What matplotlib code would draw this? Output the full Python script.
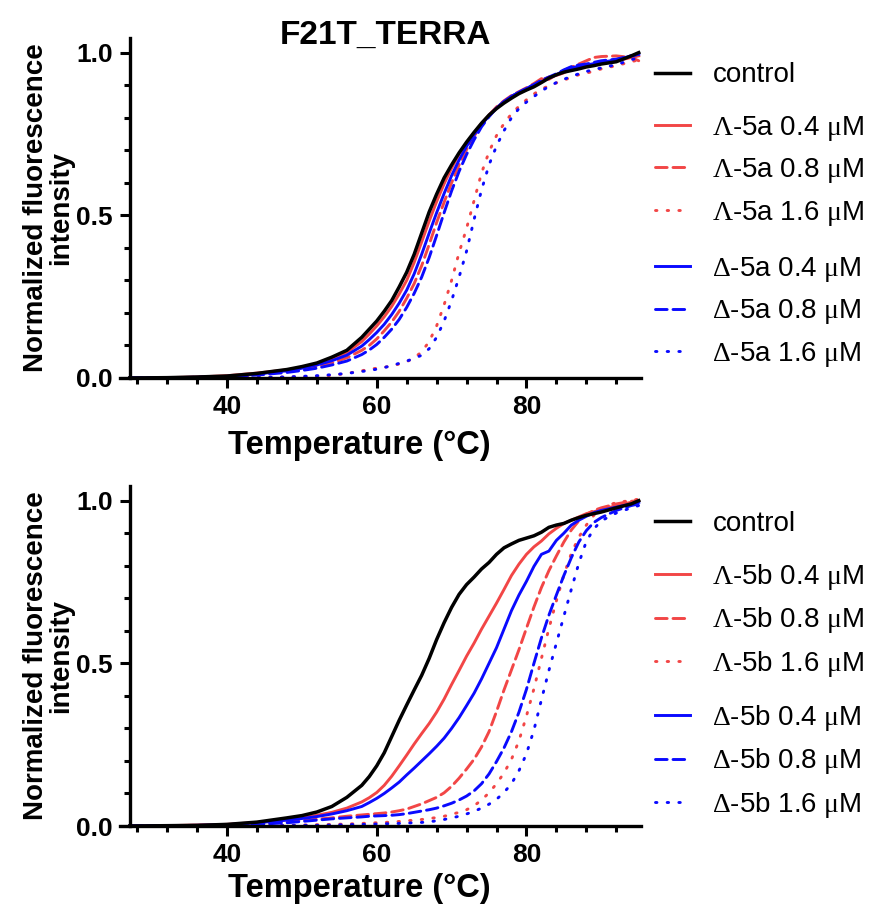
import matplotlib
matplotlib.use("Agg")
import matplotlib.pyplot as plt
from matplotlib.ticker import MultipleLocator, FixedLocator

plt.rcParams['font.family'] = ['Liberation Sans', 'DejaVu Sans']
plt.rcParams['mathtext.fontset'] = 'custom'
plt.rcParams['mathtext.rm'] = 'Liberation Serif'
plt.rcParams['mathtext.it'] = 'Liberation Serif'

# temperature grid (deg C), shared by all curves
temp = [27, 32, 36, 40, 44, 48, 50, 52, 54, 56, 58, 59, 60, 61, 62, 63, 64, 65, 66, 67,
        68, 69, 70, 71, 72, 73, 74, 75, 76, 77, 78, 79, 80, 81, 82, 83, 84, 85, 86, 87,
        88, 89, 90, 92, 94, 95]

# ---- top panel: 5a ----
a_control = [0, 0.001, 0.003, 0.006, 0.014, 0.026, 0.035, 0.046, 0.064, 0.085, 0.125, 0.15, 0.175, 0.205, 0.238, 0.28, 0.325, 0.38, 0.445, 0.51,
             0.565, 0.615, 0.655, 0.692, 0.725, 0.755, 0.783, 0.808, 0.828, 0.845, 0.86, 0.874, 0.885, 0.895, 0.908, 0.922, 0.932, 0.94, 0.945, 0.95,
             0.956, 0.96, 0.965, 0.972, 0.99, 1.0]
a_lam04 = [0, 0.001, 0.003, 0.007, 0.015, 0.025, 0.032, 0.043, 0.058, 0.078, 0.112, 0.135, 0.16, 0.188, 0.22, 0.258, 0.30, 0.355, 0.418, 0.482,
           0.542, 0.597, 0.645, 0.688, 0.722, 0.753, 0.783, 0.808, 0.83, 0.85, 0.866, 0.876, 0.888, 0.90, 0.915, 0.925, 0.93, 0.938, 0.95, 0.955,
           0.96, 0.965, 0.968, 0.975, 0.985, 0.99]
a_lam08 = [0, 0.001, 0.002, 0.005, 0.011, 0.02, 0.027, 0.035, 0.046, 0.062, 0.085, 0.10, 0.12, 0.145, 0.172, 0.205, 0.245, 0.29, 0.345, 0.41,
           0.478, 0.54, 0.6, 0.655, 0.702, 0.743, 0.778, 0.808, 0.833, 0.852, 0.868, 0.88, 0.892, 0.905, 0.92, 0.918, 0.932, 0.945, 0.955, 0.965,
           0.975, 0.985, 0.988, 0.99, 0.985, 0.975]
a_lam16 = [0, 0, 0, 0.001, 0.002, 0.003, 0.004, 0.005, 0.008, 0.014, 0.022, 0.027, 0.03, 0.033, 0.037, 0.043, 0.05, 0.062, 0.08, 0.112,
           0.16, 0.225, 0.30, 0.385, 0.46, 0.545, 0.63, 0.695, 0.745, 0.782, 0.812, 0.835, 0.855, 0.873, 0.888, 0.898, 0.907, 0.915, 0.925, 0.932,
           0.937, 0.943, 0.95, 0.96, 0.972, 0.978]
a_del04 = [0, 0.001, 0.002, 0.005, 0.012, 0.022, 0.03, 0.04, 0.053, 0.07, 0.098, 0.118, 0.14, 0.165, 0.195, 0.23, 0.27, 0.32, 0.38, 0.445,
           0.508, 0.567, 0.622, 0.67, 0.712, 0.748, 0.779, 0.806, 0.83, 0.848, 0.866, 0.878, 0.89, 0.90, 0.91, 0.922, 0.932, 0.945, 0.953, 0.958,
           0.962, 0.966, 0.97, 0.978, 0.99, 0.995]
a_del08 = [0, 0.001, 0.002, 0.004, 0.009, 0.017, 0.023, 0.03, 0.04, 0.052, 0.072, 0.086, 0.103, 0.125, 0.15, 0.18, 0.217, 0.26, 0.31, 0.37,
           0.438, 0.508, 0.575, 0.635, 0.687, 0.732, 0.772, 0.803, 0.83, 0.85, 0.865, 0.878, 0.89, 0.902, 0.915, 0.925, 0.935, 0.947, 0.957, 0.962,
           0.965, 0.97, 0.975, 0.98, 0.99, 0.995]
a_del16 = [0, 0, 0, 0, 0.001, 0.003, 0.005, 0.007, 0.01, 0.014, 0.02, 0.023, 0.027, 0.032, 0.038, 0.045, 0.052, 0.06, 0.07, 0.09,
           0.125, 0.175, 0.238, 0.31, 0.39, 0.487, 0.578, 0.655, 0.713, 0.76, 0.8, 0.828, 0.848, 0.865, 0.882, 0.896, 0.908, 0.918, 0.927, 0.935,
           0.942, 0.948, 0.953, 0.963, 0.978, 0.985]

# ---- bottom panel: 5b ----
b_control = [0, 0.001, 0.002, 0.005, 0.012, 0.025, 0.032, 0.043, 0.06, 0.088, 0.125, 0.152, 0.185, 0.225, 0.275, 0.325, 0.372, 0.418, 0.463, 0.515,
             0.573, 0.625, 0.672, 0.712, 0.742, 0.765, 0.79, 0.81, 0.835, 0.855, 0.867, 0.878, 0.885, 0.892, 0.903, 0.918, 0.925, 0.93, 0.94, 0.948,
             0.955, 0.96, 0.965, 0.978, 0.99, 1.0]
b_lam04 = [0, 0.001, 0.003, 0.005, 0.011, 0.02, 0.026, 0.033, 0.042, 0.055, 0.074, 0.087, 0.103, 0.125, 0.153, 0.185, 0.218, 0.252, 0.284, 0.315,
           0.35, 0.39, 0.435, 0.478, 0.522, 0.562, 0.605, 0.645, 0.685, 0.727, 0.77, 0.805, 0.835, 0.858, 0.876, 0.898, 0.915, 0.93, 0.94, 0.95,
           0.96, 0.966, 0.972, 0.985, 0.995, 1.0]
b_lam08 = [0, 0.001, 0.002, 0.003, 0.007, 0.013, 0.017, 0.021, 0.025, 0.03, 0.034, 0.036, 0.038, 0.04, 0.043, 0.047, 0.052, 0.06, 0.068, 0.078,
           0.088, 0.102, 0.122, 0.147, 0.175, 0.205, 0.243, 0.29, 0.352, 0.418, 0.48, 0.542, 0.608, 0.673, 0.733, 0.785, 0.83, 0.873, 0.91, 0.938,
           0.958, 0.97, 0.978, 0.99, 0.998, 1.0]
b_lam16 = [0, 0.001, 0.002, 0.001, 0.002, 0.002, 0.003, 0.004, 0.005, 0.006, 0.008, 0.009, 0.01, 0.011, 0.012, 0.014, 0.016, 0.018, 0.02, 0.023,
           0.026, 0.03, 0.036, 0.042, 0.05, 0.062, 0.08, 0.102, 0.13, 0.163, 0.205, 0.262, 0.338, 0.422, 0.515, 0.607, 0.692, 0.772, 0.838, 0.888,
           0.925, 0.955, 0.975, 0.995, 1.0, 1.005]
b_del04 = [0, 0.001, 0.002, 0.004, 0.01, 0.018, 0.023, 0.029, 0.037, 0.047, 0.06, 0.072, 0.085, 0.10, 0.117, 0.135, 0.157, 0.178, 0.20, 0.222,
           0.245, 0.27, 0.30, 0.333, 0.37, 0.408, 0.452, 0.5, 0.548, 0.605, 0.662, 0.71, 0.752, 0.798, 0.835, 0.845, 0.878, 0.90, 0.925, 0.94,
           0.952, 0.963, 0.97, 0.98, 0.99, 0.995]
b_del08 = [0, 0.001, 0.001, 0.002, 0.005, 0.01, 0.014, 0.018, 0.022, 0.025, 0.028, 0.03, 0.031, 0.032, 0.033, 0.035, 0.038, 0.042, 0.046, 0.05,
           0.055, 0.062, 0.07, 0.08, 0.092, 0.108, 0.13, 0.16, 0.198, 0.24, 0.29, 0.35, 0.42, 0.5, 0.578, 0.648, 0.71, 0.77, 0.825, 0.873,
           0.908, 0.933, 0.948, 0.97, 0.985, 0.99]
b_del16 = [0, 0, 0, 0, 0.001, 0.001, 0.002, 0.002, 0.003, 0.004, 0.005, 0.005, 0.006, 0.007, 0.007, 0.008, 0.009, 0.01, 0.011, 0.013,
           0.016, 0.02, 0.025, 0.03, 0.037, 0.045, 0.055, 0.067, 0.082, 0.103, 0.13, 0.17, 0.222, 0.295, 0.388, 0.478, 0.562, 0.645, 0.728, 0.808,
           0.875, 0.913, 0.938, 0.962, 0.978, 0.985]

conc_labels = ['0.4', '0.8', '1.6']
red = '#f24646'
blue = '#0a0aff'
styles = ['-', (0, (4, 2)), (0, (0.5, 3.5))]


def panel(ax, compound, ctrl, lam, dl, xlab_y):
    lam_lines = []
    del_lines = []
    for ys, ls in zip(lam, styles):
        ln, = ax.plot(temp, ys, color=red, ls=ls, lw=2.1,
                      dash_capstyle='round' if ls != '-' else 'butt')
        lam_lines.append(ln)
    for ys, ls in zip(dl, styles):
        ln, = ax.plot(temp, ys, color=blue, ls=ls, lw=2.1,
                      dash_capstyle='round' if ls != '-' else 'butt')
        del_lines.append(ln)
    ctrl_line, = ax.plot(temp, ctrl, color='black', lw=2.5)

    ax.set_xlim(25.7, 95.3)
    ax.set_ylim(0, 1.045)
    for s in ['top', 'right']:
        ax.spines[s].set_visible(False)
    ax.spines['left'].set_position(('data', 27))
    for s in ['left', 'bottom']:
        ax.spines[s].set_linewidth(2.4)
    ax.xaxis.set_major_locator(FixedLocator([40, 60, 80]))
    ax.xaxis.set_minor_locator(FixedLocator([28, 32, 36, 44, 48, 52, 56, 64, 68, 72, 76, 84, 88, 92]))
    ax.yaxis.set_major_locator(FixedLocator([0, 0.5, 1.0]))
    ax.yaxis.set_minor_locator(MultipleLocator(0.1))
    ax.set_yticklabels(['0.0', '0.5', '1.0'])
    ax.tick_params(which='major', length=7, width=2.2, labelsize=19, pad=5)
    ax.tick_params(which='minor', length=4, width=2.2)
    for lab in ax.get_xticklabels() + ax.get_yticklabels():
        lab.set_fontweight('bold')
    ax.set_xlabel('Temperature (°C)', fontsize=23.5, fontweight='bold')
    ax.xaxis.set_label_coords(0.459, xlab_y)
    ax.set_ylabel('Normalized fluorescence\nintensity', fontsize=20, fontweight='bold',
                  labelpad=1.5, linespacing=0.95)

    kw = dict(frameon=False, fontsize=20, handlelength=1.26, handletextpad=0.79,
              labelspacing=0.48, borderaxespad=0, loc='upper left')
    bb = ax.get_position()
    x0 = 0.7415
    leg1 = ax.legend([ctrl_line], ['control'], bbox_to_anchor=(x0, bb.y1 - 0.0147),
                     bbox_transform=fig.transFigure, **kw)
    ax.add_artist(leg1)
    leg2 = ax.legend(lam_lines, [r'$\Lambda$-5%s %s $\mu$M' % (compound, c) for c in conc_labels],
                     bbox_to_anchor=(x0, bb.y1 - 0.0711), bbox_transform=fig.transFigure, **kw)
    ax.add_artist(leg2)
    ax.legend(del_lines, [r'$\Delta$-5%s %s $\mu$M' % (compound, c) for c in conc_labels],
              bbox_to_anchor=(x0, bb.y1 - 0.2259), bbox_transform=fig.transFigure, **kw)


fig = plt.figure(figsize=(8.69, 9.11), dpi=100)
ax1 = fig.add_axes([0.1381, 0.5851, 0.5995, 0.3732])
ax2 = fig.add_axes([0.1381, 0.0933, 0.5995, 0.3732])

panel(ax1, 'a', a_control, [a_lam04, a_lam08, a_lam16], [a_del04, a_del08, a_del16], -0.152)
panel(ax2, 'b', b_control, [b_lam04, b_lam08, b_lam16], [b_del04, b_del08, b_del16], -0.139)

ax1.set_title('F21T_TERRA', fontsize=24, fontweight='bold', x=0.51, y=1.0, pad=-4)

fig.savefig('out.png', dpi=100)
